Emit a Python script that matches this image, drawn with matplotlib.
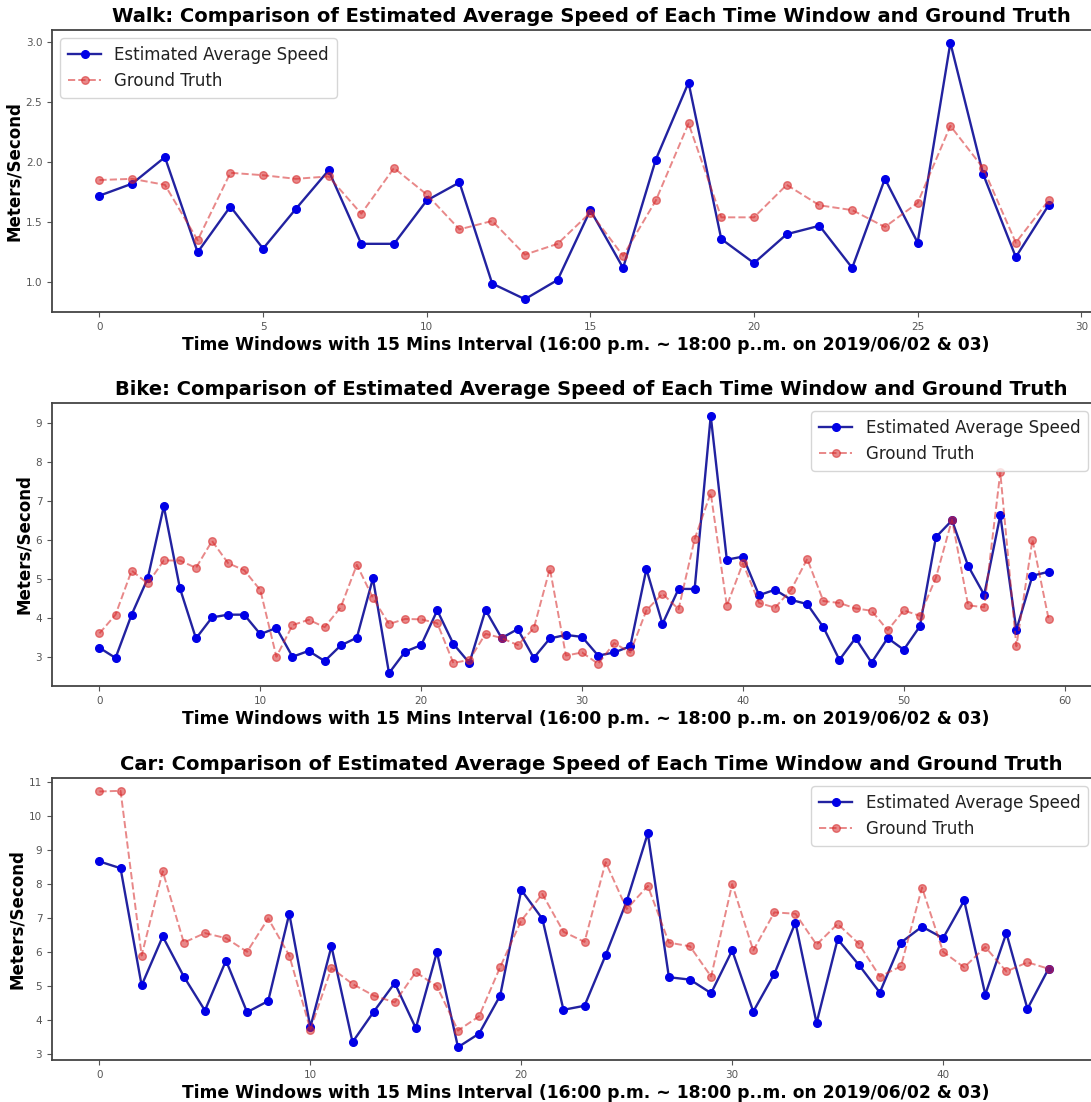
import matplotlib
matplotlib.use("Agg")
import matplotlib.pyplot as plt
from matplotlib.ticker import MultipleLocator

W, H = 1091, 1102

walk_est = [1.72, 1.82, 2.04, 1.25, 1.63, 1.28, 1.61, 1.93, 1.32, 1.32,
            1.68, 1.83, 0.99, 0.86, 1.02, 1.60, 1.12, 2.02, 2.66, 1.36,
            1.16, 1.40, 1.47, 1.12, 1.86, 1.33, 2.99, 1.90, 1.21, 1.64]
walk_gt = [1.85, 1.86, 1.81, 1.35, 1.91, 1.89, 1.86, 1.88, 1.57, 1.95,
           1.73, 1.44, 1.51, 1.23, 1.32, 1.58, 1.22, 1.68, 2.32, 1.54,
           1.54, 1.81, 1.64, 1.60, 1.46, 1.66, 2.30, 1.95, 1.33, 1.68]

bike_est = [3.23, 2.97, 4.08, 5.01, 6.86, 4.76, 3.47, 4.01, 4.08, 4.08,
            3.58, 3.74, 3.00, 3.15, 2.89, 3.29, 3.49, 5.01, 2.58, 3.13,
            3.30, 4.19, 3.33, 2.84, 4.20, 3.48, 3.71, 2.97, 3.47, 3.56,
            3.51, 3.03, 3.11, 3.27, 5.25, 3.84, 4.74, 4.74, 9.18, 5.49,
            5.57, 4.58, 4.72, 4.46, 4.35, 3.76, 2.92, 3.48, 2.85, 3.48,
            3.18, 3.78, 6.07, 6.50, 5.33, 4.59, 6.63, 3.69, 5.08, 5.18]
bike_gt = [3.60, 4.08, 5.21, 4.88, 5.47, 5.47, 5.28, 5.97, 5.40, 5.22,
           4.71, 3.00, 3.81, 3.95, 3.76, 4.27, 5.36, 4.51, 3.84, 3.97,
           3.96, 3.86, 2.84, 2.92, 3.59, 3.48, 3.30, 3.73, 5.26, 3.03,
           3.11, 2.82, 3.35, 3.11, 4.19, 4.62, 4.22, 6.02, 7.20, 4.31,
           5.40, 4.38, 4.26, 4.72, 5.51, 4.43, 4.38, 4.24, 4.18, 3.68,
           4.19, 4.05, 5.03, 6.52, 4.32, 4.27, 7.73, 3.27, 6.00, 3.98]

car_est = [8.67, 8.47, 5.02, 6.46, 5.28, 4.28, 5.75, 4.23, 4.56, 7.13,
           3.79, 6.17, 3.35, 4.24, 5.09, 3.76, 6.00, 3.20, 3.60, 4.72,
           7.83, 6.98, 4.30, 4.42, 5.91, 7.50, 9.50, 5.26, 5.19, 4.79,
           6.05, 4.25, 5.36, 6.87, 3.91, 6.38, 5.63, 4.81, 6.28, 6.75,
           6.41, 7.52, 4.75, 6.56, 4.33, 5.51]
car_gt = [10.73, 10.75, 5.90, 8.38, 6.28, 6.56, 6.41, 6.01, 6.99, 5.90,
          3.72, 5.53, 5.06, 4.72, 4.52, 5.41, 4.99, 3.69, 4.11, 5.56,
          6.93, 7.71, 6.60, 6.30, 8.65, 7.27, 7.95, 6.28, 6.17, 5.28,
          8.00, 6.05, 7.17, 7.13, 6.22, 6.83, 6.25, 5.28, 5.58, 7.90,
          6.01, 5.55, 6.15, 5.43, 5.70, 5.51]

modes = ["Walk", "Bike", "Car"]
series = [(walk_est, walk_gt), (bike_est, bike_gt), (car_est, car_gt)]
legend_locs = ["upper left", "upper right", "upper right"]
ysteps = [0.5, 1, 1]
xlabel = "Time Windows with 15 Mins Interval (16:00 p.m. ~ 18:00 p..m. on 2019/06/02 & 03)"
title_tpl = "{}: Comparison of Estimated Average Speed of Each Time Window and Ground Truth"

# axes boxes in pixels: left, top, right, bottom
boxes = [(52, 30, 1096, 312), (52, 403, 1096, 686), (52, 778, 1096, 1060)]

fig = plt.figure(figsize=(W / 100, H / 100), dpi=100)

for mode, (est, gt), loc, ys, (l, t, r, b) in zip(modes, series, legend_locs, ysteps, boxes):
    ax = fig.add_axes([l / W, 1 - b / H, (r - l) / W, (b - t) / H])
    x = list(range(len(est)))
    ax.plot(x, est, '-', color='#2222a0', lw=1.7, marker='o', ms=5.5,
            markerfacecolor='#0000e6', markeredgecolor='#0000e6',
            label='Estimated Average Speed', zorder=2)
    ax.plot(x, gt, '--', color='#d62728', lw=1.4, marker='o', ms=5.5,
            alpha=0.55, label='Ground Truth', zorder=3)
    ax.set_title(title_tpl.format(mode), fontsize=14, fontweight='bold', pad=6,
                 x=0.517)
    ax.set_xlabel(xlabel, fontsize=12.3, fontweight='bold', labelpad=3)
    ax.xaxis.label.set_x(0.511)
    ax.set_ylabel("Meters/Second", fontsize=12, fontweight='bold', labelpad=2)
    ax.yaxis.set_major_locator(MultipleLocator(ys))
    ax.tick_params(labelsize=7.5, labelcolor='#555555', color='#555555', length=3.5)
    for s in ax.spines.values():
        s.set_color('#444444')
        s.set_linewidth(1.3)
    leg = ax.legend(loc=loc, fontsize=12, framealpha=0.8, edgecolor='#cccccc',
                    borderpad=0.45, handlelength=2.0)
    for txt in leg.get_texts():
        txt.set_color('#222222')

fig.savefig("out.png", dpi=100)
